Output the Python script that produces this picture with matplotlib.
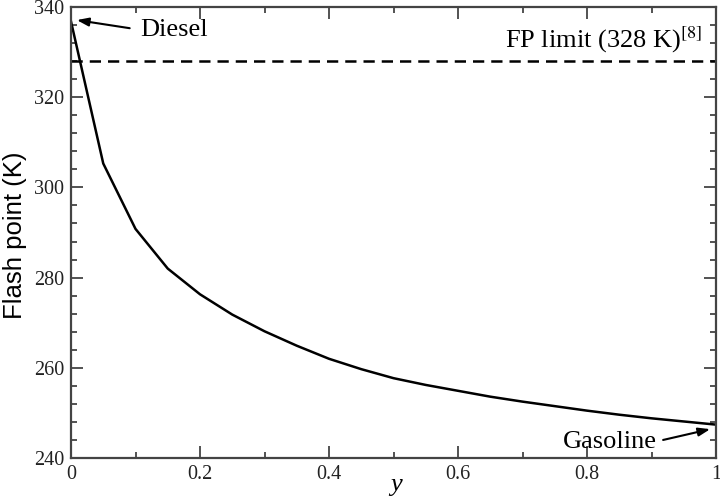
import matplotlib
matplotlib.use("Agg")
import matplotlib.pyplot as plt
from matplotlib.ticker import MultipleLocator

# Data
y_frac = [0.0, 0.05, 0.1, 0.15, 0.2, 0.25, 0.3, 0.35, 0.4, 0.45, 0.5,
          0.55, 0.6, 0.65, 0.7, 0.75, 0.8, 0.85, 0.9, 0.95, 1.0]
flash_point = [336.8, 305.3, 290.8, 282.0, 276.3, 271.8, 268.1, 264.9, 262.0, 259.7, 257.7,
               256.2, 254.9, 253.6, 252.5, 251.5, 250.5, 249.6, 248.8, 248.1, 247.4]
fp_limit = 328
x_ticks = [0, 0.2, 0.4, 0.6, 0.8, 1]
x_tick_labels = ["0", "0.2", "0.4", "0.6", "0.8", "1"]
y_ticks = [240, 260, 280, 300, 320, 340]

plt.rcParams['mathtext.fontset'] = 'stix'
serif = 'Liberation Serif'
spine_col = '#444444'

fig = plt.figure(figsize=(7.2, 4.98), dpi=100)
ax = fig.add_axes([71/720, 1-458/498, (716-71)/720, (458-7)/498])

ax.plot(y_frac, flash_point, color='black', lw=1.8, solid_joinstyle='miter')
ax.axhline(fp_limit, color='black', lw=1.8, ls=(0, (4.5, 2.8)))

ax.set_xlim(0, 1)
ax.set_ylim(240, 340)
ax.set_xticks(x_ticks)
ax.set_xticklabels(x_tick_labels)
ax.set_yticks(y_ticks)
ax.xaxis.set_minor_locator(MultipleLocator(0.1))
ax.yaxis.set_minor_locator(MultipleLocator(4))

ax.tick_params(which='both', direction='in', top=True, right=True,
               color=spine_col, width=1.3)
ax.tick_params(which='major', length=8.5, pad=5)
ax.tick_params(which='minor', length=4.5)
for lab in ax.get_xticklabels() + ax.get_yticklabels():
    lab.set_fontfamily(serif)
    lab.set_fontsize(14.5)
    lab.set_color('#222222')
for sp in ax.spines.values():
    sp.set_color(spine_col)
    sp.set_linewidth(1.6)

fig.text(15/720, 1-235/498, 'Flash point (K)', family='Liberation Sans', fontsize=18.5,
         rotation=90, ha='center', va='center')
fig.text(396/720, 7/498, 'y', family=serif, style='italic', fontsize=19,
         ha='center', va='baseline')

arrow = dict(arrowstyle='-|>,head_length=0.7,head_width=0.25', color='black', lw=1.5,
             shrinkA=0, shrinkB=0)
ax.annotate('', xy=(0.009, 337.1), xytext=(0.091, 335.3), arrowprops=arrow)
ax.text(0.107, 333.6, 'Diesel', family=serif, fontsize=19, va='baseline', ha='left')

ax.annotate('', xy=(0.991, 246.4), xytext=(0.918, 244.0), arrowprops=arrow)
ax.text(0.763, 242.2, 'Gasoline', family=serif, fontsize=19, va='baseline', ha='left')

ax.text(0.673, 331.1, r'FP limit (328 K)$^{[8]}$', family=serif, fontsize=19,
        va='baseline', ha='left')

fig.savefig('out.png', dpi=100)
